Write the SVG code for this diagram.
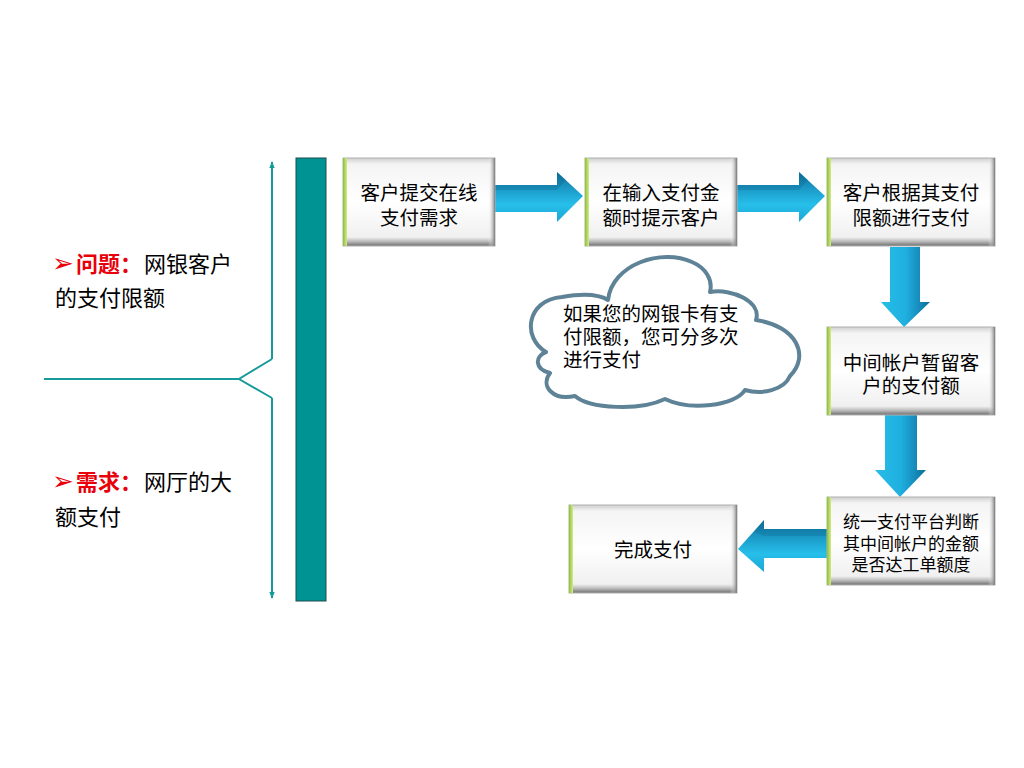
<svg xmlns="http://www.w3.org/2000/svg" width="1024" height="768" viewBox="0 0 1024 768">
<defs>
<linearGradient id="bf" x1="0" y1="0" x2="0" y2="1">
<stop offset="0" stop-color="#cfcfcf"/>
<stop offset="0.07" stop-color="#f4f4f4"/>
<stop offset="0.5" stop-color="#ffffff"/>
<stop offset="0.9" stop-color="#f0f0f0"/>
<stop offset="0.95" stop-color="#b8b8b8"/>
<stop offset="1" stop-color="#6e6e6e"/>
</linearGradient>
<linearGradient id="rf" x1="0" y1="0" x2="1" y2="0">
<stop offset="0" stop-color="#ffffff" stop-opacity="0"/>
<stop offset="1" stop-color="#7a7a7a"/>
</linearGradient>
<linearGradient id="gf" x1="0" y1="0" x2="1" y2="0">
<stop offset="0" stop-color="#8cc232"/>
<stop offset="1" stop-color="#d4ea8c"/>
</linearGradient>
<linearGradient id="ah" x1="0" y1="0" x2="0" y2="1">
<stop offset="0" stop-color="#0d6e95"/>
<stop offset="0.3" stop-color="#1a96c4"/>
<stop offset="0.65" stop-color="#27bfea"/>
<stop offset="1" stop-color="#1ca6d6"/>
</linearGradient>
<linearGradient id="av" x1="0" y1="0" x2="1" y2="0">
<stop offset="0" stop-color="#27bde8"/>
<stop offset="0.5" stop-color="#1fb0e0"/>
<stop offset="0.75" stop-color="#1790c0"/>
<stop offset="1" stop-color="#0d6e95"/>
</linearGradient>
<marker id="ar" viewBox="0 0 10 10" refX="9" refY="5" markerWidth="7" markerHeight="7" orient="auto-start-reverse" markerUnits="userSpaceOnUse">
<path d="M0,1 L10,5 L0,9 Z" fill="#179a9a"/>
</marker>
<style>
.bx{fill:url(#bf);stroke:#b0b0b0;stroke-width:1}
.br{fill:url(#rf)}
.gl{fill:url(#gf)}
.t{font-family:"Liberation Sans","Noto Sans CJK SC",sans-serif;font-size:19.5px;fill:#000;text-anchor:middle}
.ts{font-size:17px}
.lt{font-family:"Noto Sans CJK SC","Liberation Sans",sans-serif;font-size:22px;fill:#000}
.red{fill:#e8000b}
.bul{font-family:"DejaVu Sans",sans-serif;fill:#e8000b;font-size:26px}
.ha{fill:url(#ah)}
.va{fill:url(#av)}
.cn{fill:none;stroke:#179a9a;stroke-width:2}
</style>
</defs>
<rect width="1024" height="768" fill="#ffffff"/>

<g id="bracket">
<line class="cn" x1="272" y1="359" x2="272" y2="162" marker-end="url(#ar)"/>
<line class="cn" x1="272" y1="398" x2="272" y2="598" marker-end="url(#ar)"/>
<polyline class="cn" points="272,359 239,379 272,398"/>
<line class="cn" x1="44" y1="379" x2="239" y2="379"/>
</g>
<g id="bar">
<rect x="296" y="158" width="30" height="443" fill="#009393" stroke="#1d4d4d" stroke-width="1"/>
</g>

<g id="labels">
<text class="lt" y="272"><tspan class="bul" x="52">➢</tspan><tspan class="red" font-weight="bold" x="76">问题：</tspan><tspan x="144">网银客户</tspan></text>
<text class="lt" x="55" y="306">的支付限额</text>
<text class="lt" y="490"><tspan class="bul" x="52">➢</tspan><tspan class="red" font-weight="bold" x="76">需求：</tspan><tspan x="144">网厅的大</tspan></text>
<text class="lt" x="55" y="525">额支付</text>
</g>

<g id="connectors">
<polygon class="ha" points="495,185 557,185 557,172 583,196 557,222 557,212 495,212"/>
<polygon points="495,185 557,185 557,172 566,180 557,190 495,190" fill="#0e6a90" opacity="0.35"/>
<polygon class="ha" points="737,185 799,185 799,172 825,196 799,222 799,212 737,212"/>
<polygon points="737,185 799,185 799,172 808,180 799,190 737,190" fill="#0e6a90" opacity="0.35"/>
<polygon class="va" points="890,247 920,247 920,302 930,302 904,327 881,302 890,302"/>
<polygon class="va" points="885,415 917,415 917,470 926,470 900,497 875,470 885,470"/>
<polygon class="ha" points="827,529 764,529 764,520 738,549 764,572 764,558 827,558"/>
<polygon points="827,529 764,529 764,520 754,532 764,536 827,536" fill="#0e6a90" opacity="0.3"/>
</g>

<g id="n1">
<rect class="bx" x="343" y="158" width="152" height="88"/>
<rect class="br" x="488" y="158" width="7" height="88"/>
<rect class="gl" x="343" y="158" width="4" height="88"/>
<text class="t" x="419" y="200">客户提交在线</text>
<text class="t" x="419" y="225">支付需求</text>
</g>
<g id="n2">
<rect class="bx" x="585" y="158" width="152" height="88"/>
<rect class="br" x="730" y="158" width="7" height="88"/>
<rect class="gl" x="585" y="158" width="4" height="88"/>
<text class="t" x="661" y="200">在输入支付金</text>
<text class="t" x="661" y="225">额时提示客户</text>
</g>
<g id="n3">
<rect class="bx" x="827" y="158" width="168" height="88"/>
<rect class="br" x="988" y="158" width="7" height="88"/>
<rect class="gl" x="827" y="158" width="4" height="88"/>
<text class="t" x="911" y="200">客户根据其支付</text>
<text class="t" x="911" y="225">限额进行支付</text>
</g>
<g id="n4">
<rect class="bx" x="827" y="327" width="168" height="88"/>
<rect class="br" x="988" y="327" width="7" height="88"/>
<rect class="gl" x="827" y="327" width="4" height="88"/>
<text class="t" x="911" y="370">中间帐户暂留客</text>
<text class="t" x="911" y="393">户的支付额</text>
</g>
<g id="n5">
<rect class="bx" x="827" y="497" width="168" height="88"/>
<rect class="br" x="988" y="497" width="7" height="88"/>
<rect class="gl" x="827" y="497" width="4" height="88"/>
<text class="t ts" x="911" y="528">统一支付平台判断</text>
<text class="t ts" x="911" y="550">其中间帐户的金额</text>
<text class="t ts" x="911" y="571">是否达工单额度</text>
</g>
<g id="n6">
<rect class="bx" x="569" y="505" width="168" height="88"/>
<rect class="br" x="730" y="505" width="7" height="88"/>
<rect class="gl" x="569" y="505" width="4" height="88"/>
<text class="t" x="653" y="557">完成支付</text>
</g>

<g id="cloud">
<path d="M546,352 C522,338 526,300 562,297 C585,293 600,295 608,300 C612,264 662,248 692,262 C706,268 713,280 710,292 C732,288 762,302 756,320 C797,326 810,356 790,376 C784,390 762,395 745,390 C735,406 690,411 665,399 C640,411 590,409 575,396 C553,401 540,386 550,373 C534,369 535,356 546,352 Z" fill="#ffffff" stroke="#5e8397" stroke-width="4" stroke-linejoin="round"/>
<text class="t" style="text-anchor:start" x="563" y="321">如果您的网银卡有支</text>
<text class="t" style="text-anchor:start" x="563" y="344">付限额，您可分多次</text>
<text class="t" style="text-anchor:start" x="563" y="367">进行支付</text>
</g>
</svg>
